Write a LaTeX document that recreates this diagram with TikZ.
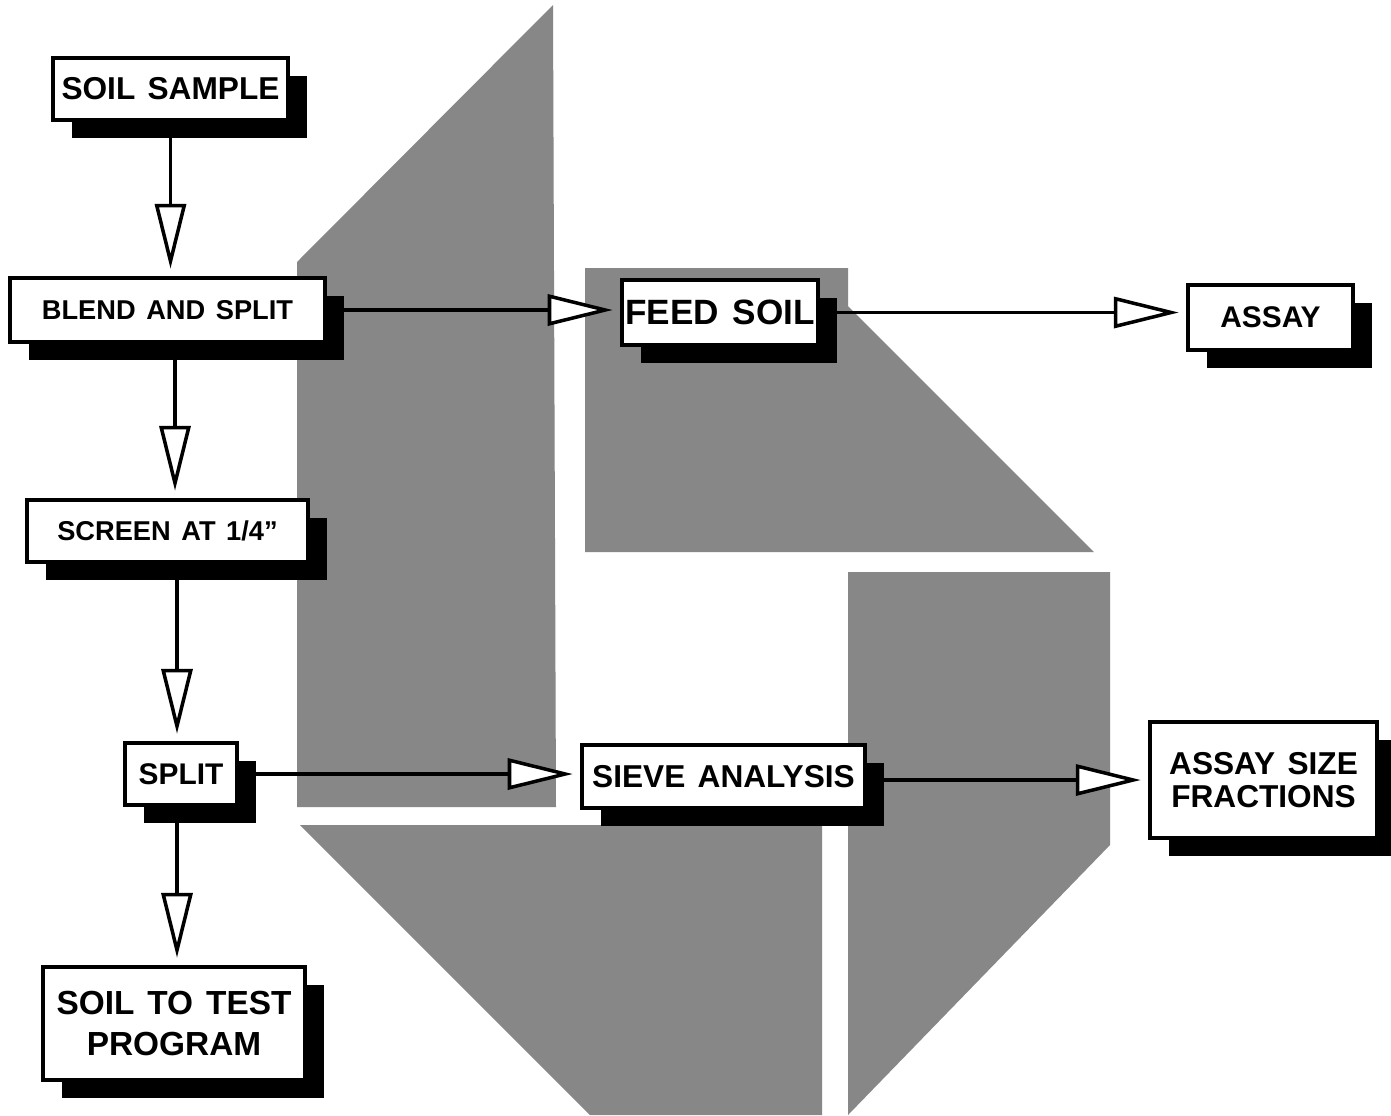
\documentclass[tikz,border=0pt]{standalone}
\usepackage{fontspec}
\setmainfont{Liberation Sans}[WordSpace=1.4]
\usetikzlibrary{arrows.meta,shadows}
\tikzset{
  halftone/.style={fill=black!47},
  box/.style={draw, line width=2pt, fill=white, align=center, inner sep=0pt,
    drop shadow={shadow xshift=.38cm, shadow yshift=-.36cm, fill=black, opacity=1}},
  flow/.style={line width=2pt, shorten >=.15cm,
    -{Triangle[fill=white, length=1.3cm, width=.62cm]}},
}
\newcommand{\boxfont}[2]{\fontsize{#1}{#2}\selectfont\bfseries}
\begin{document}
\begin{tikzpicture}
        \fill[white] (0,0) rectangle (27.82,-22.3);
        \fill[halftone] (5.94,-5.24) -- (11.06,-0.10) -- (11.12,-16.14) -- (5.94,-16.14) -- cycle;
        \fill[halftone] (11.70,-5.36) -- (16.96,-5.36) -- (16.96,-6.12) -- (21.88,-11.04) -- (11.70,-11.04) -- cycle;
        \fill[halftone] (16.96,-11.44) -- (22.20,-11.44) -- (22.20,-16.90) -- (16.96,-22.30) -- cycle;
        \fill[halftone] (6.00,-16.50) -- (16.44,-16.50) -- (16.44,-22.30) -- (11.80,-22.30) -- cycle;
        \node[box, minimum width=4.7cm, minimum height=1.24cm, font=\boxfont{18}{20}] (ss) at (3.41,-1.78) {SOIL SAMPLE};
        \node[box, minimum width=6.3cm, minimum height=1.28cm, font=\boxfont{15.5}{18}] (bl) at (3.35,-6.20) {BLEND AND SPLIT};
        \node[box, minimum width=5.62cm, minimum height=1.24cm, font=\boxfont{15.5}{18}] (sc) at (3.35,-10.62) {SCREEN AT 1/4"};
        \node[box, minimum width=2.24cm, minimum height=1.24cm, font=\boxfont{17}{20}] (sp) at (3.62,-15.48) {SPLIT};
        \node[box, minimum width=5.24cm, minimum height=2.26cm, font=\boxfont{19}{23}] (st) at (3.48,-20.47) {SOIL TO TEST\\PROGRAM};
        \node[box, minimum width=3.92cm, minimum height=1.30cm, font=\boxfont{20}{22}] (fs) at (14.40,-6.25) {FEED SOIL};
        \node[box, minimum width=3.30cm, minimum height=1.30cm, font=\boxfont{17}{20}] (as) at (25.41,-6.35) {ASSAY};
        \node[box, minimum width=5.66cm, minimum height=1.26cm, font=\boxfont{18}{20}] (sv) at (14.47,-15.53) {SIEVE ANALYSIS};
        \node[box, minimum width=4.54cm, minimum height=2.32cm, font=\boxfont{18}{19}] (af) at (25.27,-15.60) {ASSAY SIZE\\FRACTIONS};
        \draw[flow] (ss.south) -- (ss.south |- bl.north);
        \draw[flow] ([xshift=.15cm]bl.south) -- ([xshift=.15cm]bl.south |- sc.north);
        \draw[flow] ([xshift=-.08cm]sp.north |- sc.south) -- ([xshift=-.08cm]sp.north);
        \draw[flow] ([xshift=-.08cm]sp.south) -- ([xshift=-.08cm]sp.south |- st.north);
        \draw[flow] (bl.east) -- (bl.east -| fs.west);
        \draw[flow] (fs.east) -- (fs.east -| as.west);
        \draw[flow] (sp.east) -- (sp.east -| sv.west);
        \draw[flow] (af.west -| sv.east) -- (af.west);
    \end{tikzpicture}
\end{document}
